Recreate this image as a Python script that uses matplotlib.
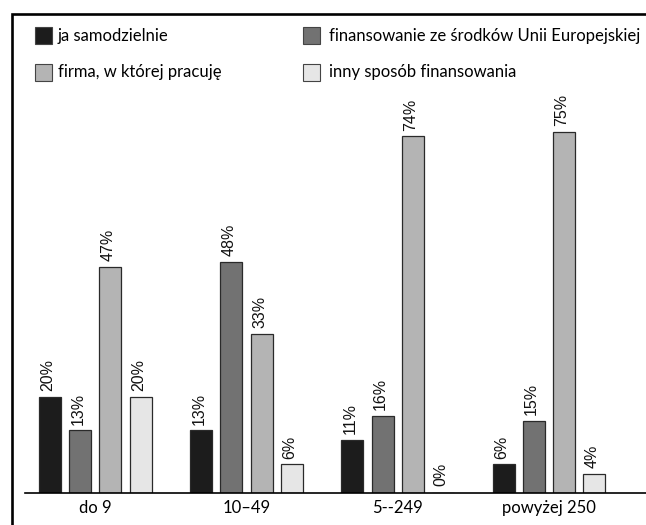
import numpy as np
import matplotlib.pyplot as plt
from matplotlib.patches import Rectangle

categories = ['do 9', '10–49', '5--249', 'powyżej 250']
series_names = ['ja samodzielnie', 'finansowanie ze środków Unii Europejskiej',
                'firma, w której pracuję', 'inny sposób finansowania']
samodzielnie = [20, 13, 11, 6]
unia = [13, 48, 16, 15]
firma = [47, 33, 74, 75]
inny = [20, 6, 0, 4]
series = [samodzielnie, unia, firma, inny]
colors = ['#1c1c1c', '#727272', '#b4b4b4', '#e6e6e6']

W, H = 646, 525
fig = plt.figure(figsize=(W / 100, H / 100), dpi=100)


def fx(px):
    return px / W


def fy(py):
    return 1 - py / H


# plot area: baseline at y=493 px, axis line from x=25 px to the right edge
ax = fig.add_axes([fx(25), fy(493), 1 - fx(25), fy(80) - fy(493)])
x = np.arange(len(categories))
step = 0.2
width = 0.1455
for i, (vals, col) in enumerate(zip(series, colors)):
    pos = x + (i - 1.5) * step
    bars = ax.bar(pos, vals, width, color=col, edgecolor='#2a2a2a', linewidth=0.9)
    for b, v in zip(bars, vals):
        ax.annotate(f'{v}%', (b.get_x() + b.get_width() / 2, v),
                    xytext=(-1.5, 4 if v > 0 else 5), textcoords='offset points',
                    rotation=90, ha='center', va='bottom',
                    family='Liberation Sans', fontsize=11.5, color='#111111')

ax.set_xlim(-0.465, 3.642)
ax.set_ylim(0, 85.7)
ax.set_xticks(x)
ax.set_xticklabels(categories, family='Lato', fontsize=12)
ax.tick_params(axis='x', length=0, pad=5)
ax.set_yticks([])
for s in ['left', 'right', 'top']:
    ax.spines[s].set_visible(False)
ax.spines['bottom'].set_linewidth(1.2)
ax.patch.set_alpha(0)

# outer frame (open to the right and bottom)
fig.add_artist(Rectangle((fx(11.5), fy(600)), 1.2, fy(13.5) - fy(600),
                         transform=fig.transFigure, fill=False,
                         edgecolor='black', linewidth=1.9))

# legend
legend_pos = [(35, 27, 58), (303, 27, 329), (35, 64, 58), (303, 64, 329)]
for (sx, sy, tx), k in zip(legend_pos, range(4)):
    fig.add_artist(Rectangle((fx(sx), fy(sy + 17)), fx(17), fy(0) - fy(17),
                             transform=fig.transFigure, facecolor=colors[k],
                             edgecolor='#444444', linewidth=0.8))
    fig.text(fx(tx), fy(sy + 8.5), series_names[k], family='Lato', fontsize=12,
             va='center', ha='left')

fig.savefig('out.png', dpi=100)
